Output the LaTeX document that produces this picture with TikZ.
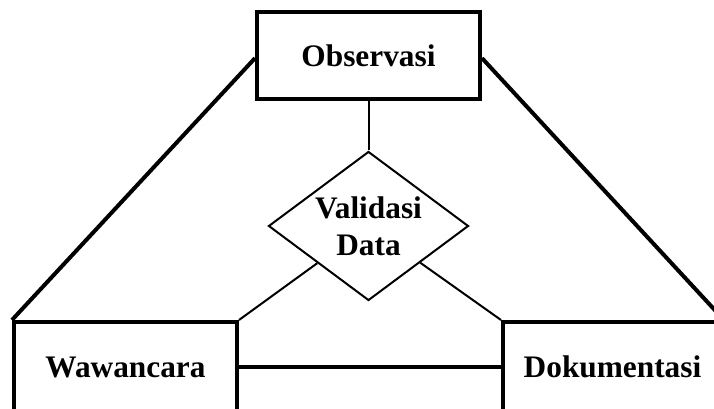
\documentclass[tikz,border=0pt]{standalone}
\usepackage{fontspec}
\setmainfont{Liberation Serif}
\usetikzlibrary{shapes.geometric}
\begin{document}
\begin{tikzpicture}[x=0.75pt,y=-0.75pt,
  box/.style={draw, line width=3pt, rectangle, inner sep=0pt, fill=white,
    font=\fontsize{23.5}{27.75}\selectfont\bfseries},
  thick line/.style={line width=3pt},
  thin line/.style={line width=1.5pt},
  decision/.style={draw, diamond, line width=1.5pt, inner sep=0pt,
    minimum width=150pt, minimum height=111.75pt},
  label text/.style={align=center, inner sep=0pt,
    font=\fontsize{23.5}{27.75}\selectfont\bfseries}]
\useasboundingbox (0,0) rectangle (714,409);
\clip (0,0) rectangle (714,409);
\node[box, minimum width=167.25pt, minimum height=65.25pt] (obs) at (368.5,55.5) {Observasi};
\node[box, minimum width=167.25pt, minimum height=67.5pt] (waw) at (125.5,367) {Wawancara};
\node[box, minimum width=164.25pt, minimum height=67.5pt] (dok) at (612.5,367) {Dokumentasi};
\node[decision] (val) at (368.5,226) {};
\node[label text] (valt) at (val.center) {Validasi\\Data};
\draw[thick line] ([yshift=-2pt]obs.west) -- (waw.north west);
\draw[thick line] ([yshift=-2pt]obs.east) -- (dok.north east);
\draw[thick line] (waw.east) -- (dok.west);
\draw[thin line] (obs.south) -- (val.north);
\draw[thin line] (waw.north east) -- (val);
\draw[thin line] (dok.north west) -- (val);
\end{tikzpicture}
\end{document}
